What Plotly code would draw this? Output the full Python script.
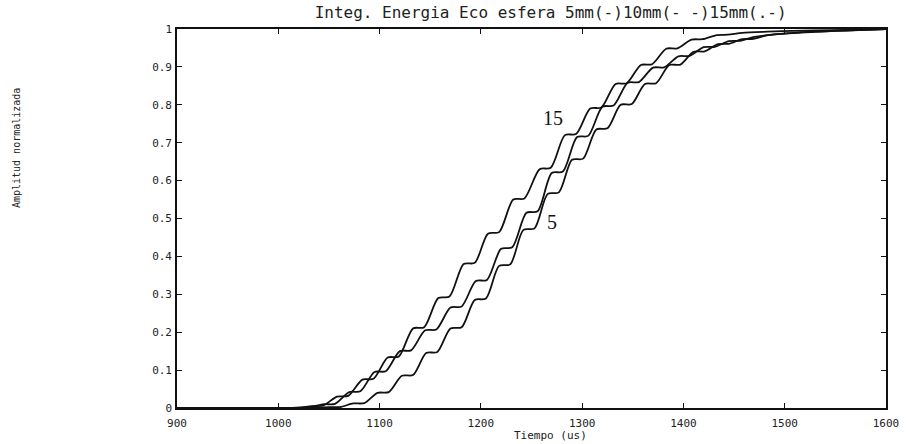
import plotly.graph_objects as go

# ---- data (time in us, normalised amplitude) ----
# left / upper trace (15 mm)
t_15 = [900, 1000, 1020, 1033, 1044, 1058, 1069, 1083, 1094, 1108, 1119, 1133, 1144,
        1158, 1169, 1183, 1194, 1207, 1218, 1232, 1243, 1258, 1269, 1283, 1294, 1308,
        1319, 1333, 1344, 1358, 1369, 1383, 1394, 1408, 1419, 1433, 1444, 1458, 1483,
        1508, 1550, 1600]
v_15 = [0, 0, .001, .005, .006, .030, .032, .075, .077, .133, .136, .210, .213,
        .290, .294, .380, .383, .460, .464, .550, .553, .630, .634, .720, .723, .790,
        .793, .855, .857, .905, .907, .948, .949, .972, .973, .984, .985, .990, .993,
        .995, .997, 1.0]

# middle trace (10 mm)
t_10 = [900, 1010, 1030, 1045, 1056, 1070, 1081, 1095, 1106, 1120, 1131, 1145, 1156,
        1170, 1181, 1195, 1206, 1220, 1231, 1245, 1256, 1270, 1281, 1295, 1306, 1320,
        1331, 1345, 1356, 1370, 1381, 1395, 1406, 1420, 1431, 1445, 1456, 1470, 1495,
        1530, 1570, 1600]
v_10 = [0, 0, .002, .010, .011, .042, .044, .095, .097, .150, .152, .205, .207,
        .265, .268, .335, .338, .420, .424, .515, .519, .620, .624, .715, .718, .795,
        .798, .858, .860, .898, .899, .928, .929, .952, .953, .968, .969, .979, .987,
        .993, .997, 1.0]

# right / lower trace (5 mm)
t_5 = [900, 1020, 1040, 1050, 1061, 1074, 1085, 1098, 1109, 1122, 1133, 1146, 1157,
       1170, 1181, 1194, 1205, 1218, 1229, 1242, 1253, 1266, 1277, 1290, 1301, 1314,
       1325, 1338, 1349, 1362, 1373, 1386, 1397, 1410, 1421, 1434, 1445, 1458, 1469,
       1482, 1520, 1560, 1600]
v_5 = [0, 0, .001, .002, .0025, .012, .013, .040, .042, .085, .087, .145, .148,
       .210, .213, .285, .289, .375, .379, .470, .474, .565, .569, .655, .658, .735,
       .738, .800, .802, .855, .857, .905, .906, .940, .941, .960, .961, .973, .974,
       .983, .991, .996, 1.0]

x_ticks = [900, 1000, 1100, 1200, 1300, 1400, 1500, 1600]
x_labels = ["900", "1000", "1100", "1200", "1300", "1400", "1500", "1600"]
y_ticks = [0, 0.1, 0.2, 0.3, 0.4, 0.5, 0.6, 0.7, 0.8, 0.9, 1.0]
y_labels = ["0", "0.1", "0.2", "0.3", "0.4", "0.5", "0.6", "0.7", "0.8", "0.9", "1"]

title_text = "Integ. Energia Eco esfera 5mm(-)10mm(- -)15mm(.-)"
x_title = "Tiempo (us)"
y_title = "Amplitud normalizada"
curve_labels = [("15", 1271, 0.765), ("5", 1270, 0.49)]

# ---- figure ----
fig = go.Figure()
for tt, vv, name in [(t_5, v_5, "5mm"), (t_10, v_10, "10mm"), (t_15, v_15, "15mm")]:
    fig.add_trace(go.Scatter(x=tt, y=vv, mode="lines", name=name,
                             line=dict(color="#111111", width=1.8, shape="spline", smoothing=0.8),
                             showlegend=False, hoverinfo="skip"))

mono = "DejaVu Sans Mono"
tick_font = dict(family=mono, size=11, color="#222222")
axis_common = dict(ticks="inside", ticklen=5, tickwidth=1, tickcolor="#111111",
                   mirror="ticks", showline=True, linecolor="#111111", linewidth=1.6,
                   showgrid=False, zeroline=False, tickfont=tick_font, automargin=False)

fig.update_xaxes(range=[900, 1600], tickvals=x_ticks, ticktext=x_labels,
                 ticklabelstandoff=4, **axis_common)
fig.update_yaxes(range=[0, 1], tickvals=y_ticks, ticktext=y_labels,
                 ticklabelstandoff=1, **axis_common)

annotations = []
for txt, tx, ty in curve_labels:
    annotations.append(dict(x=tx, y=ty, xref="x", yref="y", text=txt, showarrow=False,
                            xanchor="center", yanchor="middle",
                            font=dict(family="Liberation Serif", size=20, color="#111111")))
annotations.append(dict(x=0.527, y=-0.072, xref="paper", yref="paper", text=x_title,
                        xanchor="center", yanchor="middle", showarrow=False,
                        font=dict(family=mono, size=11, color="#222222")))
annotations.append(dict(x=-0.227, y=0.686, xref="paper", yref="paper", text=y_title,
                        textangle=-90, xanchor="center", yanchor="middle", showarrow=False,
                        font=dict(family=mono, size=10, color="#222222")))

fig.update_layout(
    width=909, height=444,
    margin=dict(l=177, r=23, t=29, b=36),
    paper_bgcolor="white", plot_bgcolor="white",
    title=dict(text=title_text, x=0.527, xref="paper", y=0.973, yref="container",
               xanchor="center", yanchor="middle",
               font=dict(family=mono, size=16, color="#222222")),
    annotations=annotations,
)

fig.write_html("out.html", config={"displayModeBar": False},
               post_script="document.body.style.margin='0px';")
